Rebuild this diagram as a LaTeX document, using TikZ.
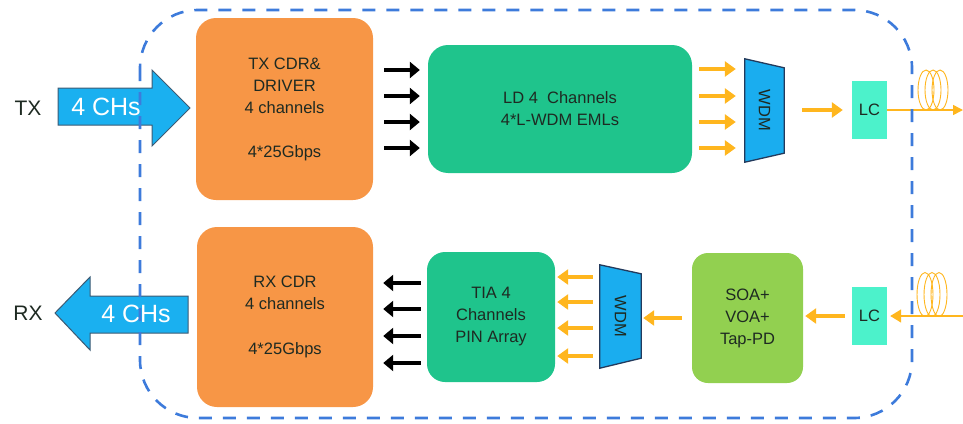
\documentclass[tikz,border=0pt]{standalone}
\usepackage{fontspec}
\setmainfont{Liberation Sans}
\usetikzlibrary{arrows.meta,calc}
\definecolor{boxorange}{HTML}{F79646}
\definecolor{boxgreen}{HTML}{1FC48C}
\definecolor{soagreen}{HTML}{92D050}
\definecolor{lccol}{HTML}{4CF2CB}
\definecolor{wdmfill}{HTML}{1AADEF}
\definecolor{wdmline}{HTML}{233A5C}
\definecolor{bigfill}{HTML}{1AB0F0}
\definecolor{bigline}{HTML}{3D5A73}
\definecolor{sigorange}{HTML}{FFB61E}
\definecolor{dashblue}{HTML}{3D7BDB}
\definecolor{txtdark}{HTML}{1E2A22}
\tikzset{
  boxtext/.style={text=txtdark,align=center,font=\fontsize{16.5}{22}\selectfont},
  obox/.style={boxtext,fill=boxorange,rounded corners=20pt,inner sep=0pt},
  gbox/.style={boxtext,fill=boxgreen,rounded corners=18pt,inner sep=0pt},
  sbox/.style={boxtext,fill=soagreen,rounded corners=16pt,inner sep=0pt},
  lcbox/.style={boxtext,fill=lccol,inner sep=0pt},
  wdmtxt/.style={boxtext,inner sep=0pt},
  wdmshape/.style={fill=wdmfill,draw=wdmline,line width=1.3pt,line join=miter},
  bigarrow/.style={fill=bigfill,draw=bigline,line width=1pt},
  bigtext/.style={text=white,font=\fontsize{25}{28}\selectfont,inner sep=0pt},
  sidelabel/.style={text=txtdark,font=\fontsize{21}{24}\selectfont,inner sep=0pt},
  blkarrow/.style={draw=black,line width=4pt,-{Triangle[length=10pt,width=16pt]}},
  orarrow/.style={draw=sigorange,line width=3.5pt,-{Triangle[length=11pt,width=15pt]}},
  fiber/.style={draw=sigorange,line width=1.5pt},
  coil/.style={draw=sigorange,line width=0.9pt},
  border/.style={draw=dashblue,line width=2.6pt,dash pattern=on 13pt off 11pt,rounded corners=58pt}
}
\begin{document}
\begin{tikzpicture}[x=1pt,y=-1pt]
\useasboundingbox (0,0) rectangle (963,423);

% ---------- TX path ----------
\node[sidelabel] (txl) at (28,108) {TX};
\node[obox,minimum width=177pt,minimum height=182pt] (txb) at (284.5,109)
  {TX CDR\&\\DRIVER\\4 channels\\[22pt]4*25Gbps};
\draw[bigarrow] (58,88) -- (152,88) -- (152,70) -- (190,108) -- (152,146) -- (152,125) -- (58,125) -- cycle;
\node[bigtext] (txa) at (106,107) {4 CHs};

\node[gbox,minimum width=264pt,minimum height=128pt,rounded corners=20pt] (ld) at (560,109)
  {LD 4\ \ Channels\\4*L-WDM EMLs};

\foreach \y in {70,96,122,148}
  \draw[blkarrow,shorten <=11pt,shorten >=8pt] (txb.east |- 0,\y) -- (ld.west |- 0,\y);

\node[wdmtxt,minimum width=39pt,minimum height=103pt] (wdm1) at (764.5,110.5) {};
\draw[wdmshape] (wdm1.north west) -- ($(wdm1.north east)+(0,9)$) -- ($(wdm1.south east)+(0,-9)$) -- (wdm1.south west) -- cycle;
\node[boxtext,rotate=-90] at (wdm1.center) {WDM};

\foreach \y in {69,96,122,148}
  \draw[orarrow,shorten <=7pt,shorten >=9pt] (ld.east |- 0,\y) -- (wdm1.west |- 0,\y);

\node[lcbox,minimum width=35pt,minimum height=58pt] (lc1) at (869.5,110) {LC};
\draw[orarrow,shorten <=18pt,shorten >=9pt] (wdm1.east |- lc1.west) -- (lc1.west);

\coordinate (fout) at (963,110);
\draw[fiber,-{Triangle[length=10pt,width=10pt]}] (lc1.east) -- (fout);
\foreach \cx in {926,933,940}
  \draw[coil] (\cx,90) ellipse [x radius=8pt,y radius=20pt];

% ---------- RX path ----------
\node[sidelabel] (rxl) at (28,313) {RX};
\node[obox,minimum width=176pt,minimum height=180pt] (rxb) at (285,317)
  {RX CDR\\4 channels\\[23pt]4*25Gbps};
\draw[bigarrow] (55,313) -- (90,277) -- (90,296) -- (188,296) -- (188,333) -- (90,333) -- (90,350) -- cycle;
\node[bigtext] (rxa) at (136,314) {4 CHs};

\node[gbox,minimum width=128pt,minimum height=130pt] (tia) at (491,317)
  {TIA 4\\Channels\\PIN Array};

\foreach \y in {283,309,336,363}
  \draw[blkarrow,shorten <=6pt,shorten >=10pt] (tia.west |- 0,\y) -- (rxb.east |- 0,\y);

\node[wdmtxt,minimum width=41pt,minimum height=103pt] (wdm2) at (620.5,316.5) {};
\draw[wdmshape] (wdm2.north west) -- ($(wdm2.north east)+(0,9)$) -- ($(wdm2.south east)+(0,-10)$) -- (wdm2.south west) -- cycle;
\node[boxtext,rotate=-90] at (wdm2.center) {WDM};

\foreach \y in {277,302,328,356}
  \draw[orarrow,shorten <=7pt,shorten >=2pt] (wdm2.west |- 0,\y) -- (tia.east |- 0,\y);

\node[sbox,minimum width=111pt,minimum height=130pt] (soa) at (747.5,318)
  {SOA+\\VOA+\\Tap-PD};
\draw[orarrow,shorten <=10pt,shorten >=2pt] (soa.west) -- (wdm2.east |- soa.west);

\node[lcbox,minimum width=35pt,minimum height=58pt] (lc2) at (869.5,316) {LC};
\draw[orarrow,shorten <=7pt,shorten >=2pt] (lc2.west) -- (soa.east |- lc2.west);

\coordinate (fin) at (963,316);
\draw[fiber,-{Triangle[length=11pt,width=13pt]},shorten >=3pt] (fin) -- (lc2.east);
\foreach \cx in {925,932,939}
  \draw[coil] (\cx,294.5) ellipse [x radius=8pt,y radius=22pt];

% ---------- module border ----------
\draw[border] (140,10) rectangle (912,418);
\end{tikzpicture}
\end{document}
